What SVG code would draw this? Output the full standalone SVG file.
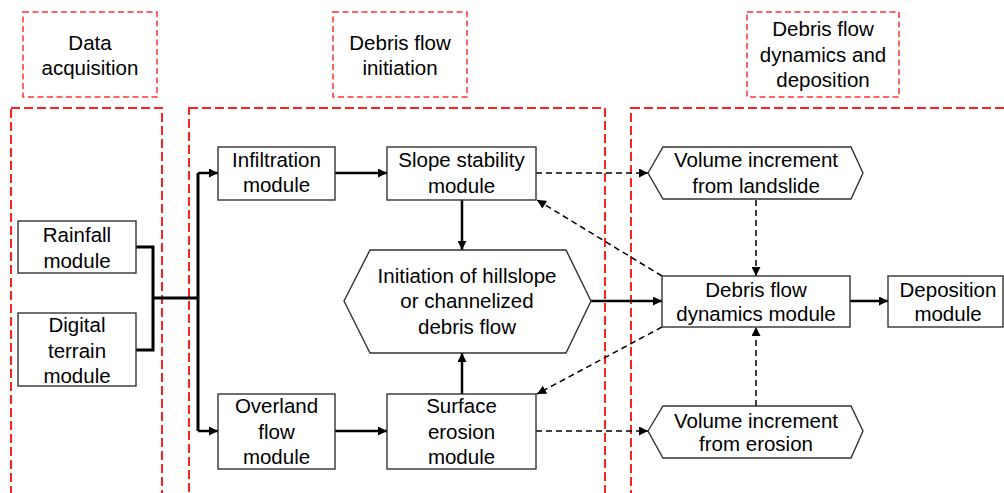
<svg xmlns="http://www.w3.org/2000/svg" width="1004" height="493" viewBox="0 0 1004 493">
<style>
text{font-family:"Liberation Sans",Arial,sans-serif;font-size:20.5px;fill:#000;text-anchor:middle}
.hdr{fill:none;stroke:#ff3030;stroke-width:1.5;stroke-dasharray:6 3.5}
.pnl{fill:none;stroke:#ff2020;stroke-width:2;stroke-dasharray:9 4}
.box{fill:#fff;stroke:#333;stroke-width:1.4}
.sol{fill:none;stroke:#000;stroke-width:2.5}
.thk{fill:none;stroke:#000;stroke-width:3}
.dsh{fill:none;stroke:#000;stroke-width:1.5;stroke-dasharray:6 4}
</style>
<defs>
<marker id="ah" viewBox="0 0 10 10" refX="10" refY="5" markerWidth="10" markerHeight="9" markerUnits="userSpaceOnUse" orient="auto"><path d="M0,0 L10,5 L0,10 z" fill="#000"/></marker>
</defs>
<rect width="1004" height="493" fill="#fff"/>
<g id="headers">
<g id="hdr-data"><rect class="hdr" x="23" y="12" width="134" height="85"/><text x="90" y="50">Data</text><text x="90" y="75">acquisition</text></g>
<g id="hdr-init"><rect class="hdr" x="333" y="12" width="134" height="85"/><text x="400" y="50">Debris flow</text><text x="400" y="75">initiation</text></g>
<g id="hdr-dyn"><rect class="hdr" x="747" y="12" width="152" height="85"/><text x="823" y="36">Debris flow</text><text x="823" y="62">dynamics and</text><text x="823" y="87">deposition</text></g>
</g>
<g id="panels">
<rect class="pnl" x="11" y="108" width="151" height="400"/>
<rect class="pnl" x="189" y="108" width="416" height="400"/>
<rect class="pnl" x="631" y="108" width="400" height="400"/>
</g>
<g id="connectors">
<polyline class="thk" points="136,247 153,247 153,350 136,350"/>
<line class="thk" x1="153" y1="298" x2="198" y2="298"/>
<line class="thk" x1="198" y1="173" x2="198" y2="431"/>
<line class="sol" x1="198" y1="173" x2="218" y2="173" marker-end="url(#ah)"/>
<line class="sol" x1="198" y1="431" x2="218" y2="431" marker-end="url(#ah)"/>
<line class="sol" x1="335" y1="173" x2="387" y2="173" marker-end="url(#ah)"/>
<line class="sol" x1="335" y1="431" x2="387" y2="431" marker-end="url(#ah)"/>
<line class="sol" x1="462" y1="200" x2="462" y2="250" marker-end="url(#ah)"/>
<line class="sol" x1="462" y1="394" x2="462" y2="353" marker-end="url(#ah)"/>
<line class="sol" x1="591" y1="301" x2="662" y2="301" marker-end="url(#ah)"/>
<line class="sol" x1="850" y1="301" x2="888" y2="301" marker-end="url(#ah)"/>
<line class="dsh" x1="536" y1="173" x2="648" y2="173" marker-end="url(#ah)"/>
<line class="dsh" x1="536" y1="431" x2="648" y2="431" marker-end="url(#ah)"/>
<line class="dsh" x1="756" y1="200" x2="756" y2="276" marker-end="url(#ah)"/>
<line class="dsh" x1="756" y1="406" x2="756" y2="327" marker-end="url(#ah)"/>
<line class="dsh" x1="662" y1="276" x2="537" y2="200" marker-end="url(#ah)"/>
<line class="dsh" x1="662" y1="327" x2="537" y2="394" marker-end="url(#ah)"/>
</g>
<g id="rainfall"><rect class="box" x="18" y="221" width="118" height="52"/><text x="77" y="242">Rainfall</text><text x="77" y="268">module</text></g>
<g id="dtm"><rect class="box" x="18" y="313" width="118" height="73"/><text x="77" y="332">Digital</text><text x="77" y="358">terrain</text><text x="77" y="383">module</text></g>
<g id="infiltration"><rect class="box" x="218" y="147" width="117" height="53"/><text x="276.5" y="167">Infiltration</text><text x="276.5" y="192">module</text></g>
<g id="slope"><rect class="box" x="387" y="147" width="149" height="53"/><text x="461.5" y="167">Slope stability</text><text x="461.5" y="193">module</text></g>
<g id="overland"><rect class="box" x="218" y="394" width="117" height="75"/><text x="276.5" y="413">Overland</text><text x="276.5" y="439">flow</text><text x="276.5" y="464">module</text></g>
<g id="surface"><rect class="box" x="387" y="394" width="149" height="75"/><text x="461.5" y="413">Surface</text><text x="461.5" y="439">erosion</text><text x="461.5" y="464">module</text></g>
<g id="initiation"><polygon class="box" points="344,301 370,250 566,250 591,301 566,353 370,353"/><text x="467" y="283">Initiation of hillslope</text><text x="467" y="308">or channelized</text><text x="467" y="334">debris flow</text></g>
<g id="vol-landslide"><polygon class="box" points="648,173 663,147 851,147 863,173 851,199 663,199"/><text x="756" y="167">Volume increment</text><text x="756" y="193">from landslide</text></g>
<g id="dfd"><rect class="box" x="662" y="276" width="188" height="51"/><text x="756" y="297">Debris flow</text><text x="756" y="321">dynamics module</text></g>
<g id="deposition"><rect class="box" x="888" y="276" width="115" height="51"/><text x="948" y="297">Deposition</text><text x="948" y="321">module</text></g>
<g id="vol-erosion"><polygon class="box" points="648,431 663,406 851,406 863,431 851,458 663,458"/><text x="756" y="428">Volume increment</text><text x="756" y="451">from erosion</text></g>
</svg>
